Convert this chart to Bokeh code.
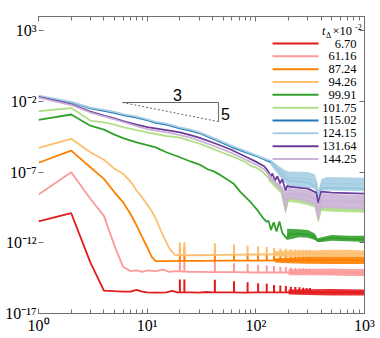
import numpy as np
from bokeh.plotting import figure
from bokeh.models import (FixedTicker, LogTicker, LogAxis,
                          Range1d, CustomJSTickFormatter)
from bokeh.core.properties import value
from bokeh.embed import file_html
from bokeh.resources import INLINE

# ---------------- data (log10 of the plotted quantity) ----------------
LABELS = ["6.70", "61.16", "87.24", "94.26", "99.91",
          "101.75", "115.02", "124.15", "131.64", "144.25"]
COLORS = ["#e31a1c", "#fb9a99", "#ff7f00", "#fdbf6f", "#33a02c",
          "#b2df8a", "#1f78b4", "#a6cee3", "#6a3d9a", "#cab2d6"]

Y_TICKS = [1e3, 1e-2, 1e-7, 1e-12, 1e-17]

SPIKE_K = [20, 22, 42, 63, 84, 105, 126, 147, 168, 189, 210, 231, 252, 273, 294, 315]

RED_K = [1, 2, 3, 4, 5, 6, 7, 8, 9, 10, 12, 15, 17, 19, 25, 30, 35, 40, 50, 60, 80, 100, 150, 200, 300, 500, 1000]
RED_V = [-10.48, -9.91, -13.38, -15.38, -15.42, -15.45, -15.45, -15.33, -15.45, -15.5, -15.52, -15.5, -15.4,
         -15.5, -15.5, -15.52, -15.48, -15.5, -15.5, -15.5, -15.52, -15.5, -15.5, -15.5, -15.5, -15.5, -15.5]
RED_SPK = [-14.6, -14.6, -14.62, -14.72, -14.79, -14.86, -14.9, -14.98, -15.02, -15.05, -15.1, -15.12,
           -15.15, -15.18, -15.2, -15.2]
RED_BK = [200, 300, 500, 700, 1000]
RED_LO = [-15.65, -15.7, -15.72, -15.72, -15.72]
RED_HI = [-15.3, -15.28, -15.26, -15.28, -15.3]

PINK_K = [1, 2, 3, 4, 5, 6, 7, 8, 9, 10, 12, 14, 16, 18, 25, 30, 40, 50, 70, 100, 150, 200, 300, 500, 1000]
PINK_V = [-8.59, -7.01, -8.89, -10.1, -12.2, -13.7, -14.0, -13.95, -14.05, -13.95, -14.0, -13.9, -14.05,
          -14.0, -14.05, -14.05, -14.08, -14.08, -14.08, -14.1, -14.1, -14.1, -14.1, -14.1, -14.12]
PINK_SPK = [-13.14, -13.14, -13.14, -13.45, -13.49, -13.55, -13.6, -13.65, -13.7, -13.72, -13.75, -13.78,
            -13.8, -13.8, -13.82, -13.82]
PINK_BK = [200, 300, 500, 700, 1000]
PINK_LO = [-14.3, -14.3, -14.32, -14.35, -14.35]
PINK_HI = [-13.88, -13.85, -13.82, -13.85, -13.85]

ORANGE_K = [1, 2, 3, 4, 5, 6, 7, 8, 9, 10, 11, 12, 13, 15, 20, 30, 50, 100, 200, 300, 500, 1000]
ORANGE_V = [-6.34, -5.48, -6.66, -7.48, -8.43, -9.13, -9.95, -10.78, -11.6, -12.3, -13.0, -13.3, -13.3,
            -13.3, -13.28, -13.28, -13.26, -13.26, -13.25, -13.25, -13.22, -13.24]
ORANGE_SPK = [-12.3, -12.3, -12.55, -12.67, -12.75, -12.8, -12.85, -12.9, -12.92, -12.95, -12.98, -12.98,
              -13.0, -13.0, -13.0, -13.0]
ORANGE_BK = [150, 200, 300, 500, 700, 1000]
ORANGE_LO = [-13.4, -13.45, -13.49, -13.5, -13.5, -13.5]
ORANGE_HI = [-13.1, -13.05, -13.0, -12.95, -12.95, -12.98]

LORANGE_K = [1, 2, 3, 4, 5, 6, 7, 8, 9, 10, 11, 12, 14, 16, 18, 20, 30, 50, 100, 200, 300, 500, 1000]
LORANGE_V = [-5.29, -4.65, -5.6, -6.13, -6.77, -7.12, -7.65, -8.3, -8.8, -9.3, -9.75, -10.3, -11.5, -12.4,
             -12.85, -12.88, -12.88, -12.86, -12.83, -12.8, -12.8, -12.78, -12.78]
LORANGE_SPK = [-11.96, -11.96, -12.03, -12.12, -12.2, -12.25, -12.3, -12.35, -12.4, -12.42, -12.45, -12.48,
               -12.5, -12.5, -12.5, -12.5]
LORANGE_BK = [150, 200, 300, 500, 700, 1000]
LORANGE_LO = [-12.95, -13.0, -13.0, -13.0, -13.0, -13.0]
LORANGE_HI = [-12.6, -12.55, -12.55, -12.5, -12.5, -12.55]

GREEN_K = [1, 2, 3, 4, 5, 6, 8, 10, 12, 15, 20, 25, 30, 36, 41, 47, 55, 63, 72, 89, 106, 118, 125, 131,
           138, 146, 155, 165, 175, 194, 200, 250, 300, 350, 370, 400, 500, 700, 1000]
GREEN_V = [-3.31, -2.93, -3.72, -4.0, -4.35, -4.6, -4.9, -5.1, -5.25, -5.6, -5.95, -6.25, -6.45, -6.8,
           -6.95, -7.2, -7.55, -7.85, -8.4, -9.1, -9.8, -10.3, -10.5, -10.45, -11.1, -10.55, -11.2, -10.5,
           -11.3, -11.72, -11.4, -11.35, -11.4, -11.6, -11.84, -11.8, -11.65, -11.7, -11.75]
GREEN_BK = [194, 250, 300, 350, 370, 400, 500, 700, 1000]
GREEN_LO = [-11.8, -11.6, -11.65, -11.8, -11.95, -11.95, -11.85, -11.9, -11.95]
GREEN_HI = [-11.0, -11.05, -11.1, -11.35, -11.7, -11.6, -11.45, -11.5, -11.5]

LGREEN_K = [1, 2, 3, 4, 5, 6, 8, 10, 15, 20, 25, 30, 40, 50, 60, 80, 89, 100, 111, 120, 130, 150, 170,
            188, 200, 250, 300, 350, 375, 400, 500, 1000]
LGREEN_V = [-2.7, -2.47, -3.36, -3.48, -3.64, -3.82, -4.03, -4.2, -4.45, -4.56, -4.8, -4.98, -5.34, -5.65,
            -5.87, -6.29, -6.54, -6.68, -6.89, -7.1, -7.4, -7.85, -8.25, -9.65, -8.85, -9.0, -9.15, -9.3,
            -10.4, -9.55, -9.6, -9.7]
LGREEN_BK = [130, 150, 170, 188, 200, 250, 300, 350, 375, 400, 500, 1000]
LGREEN_LO = [-7.6, -8.1, -8.5, -10.0, -9.1, -9.2, -9.35, -9.5, -10.6, -9.75, -9.8, -9.88]
LGREEN_HI = [-7.2, -7.6, -8.0, -9.3, -8.6, -8.8, -8.95, -9.1, -10.2, -9.35, -9.4, -9.5]

BLUE_K = [1, 2, 3, 4, 5, 6, 8, 10, 12, 15, 20, 25, 30, 40, 50, 60, 80, 100, 120, 137, 157, 165, 180,
          200, 300, 360, 375, 400, 1000]
BLUE_V = [-1.66, -2.07, -2.5, -2.67, -2.81, -2.97, -3.15, -3.33, -3.52, -3.64, -3.91, -4.07, -4.24, -4.63,
          -4.95, -5.23, -5.59, -5.85, -6.1, -6.3, -6.77, -7.0, -7.35, -7.6, -7.74, -8.03, -9.01, -8.1, -8.17]

LBLUE_K = [1, 2, 3, 4, 5, 6, 8, 10, 12, 15, 20, 25, 30, 40, 50, 60, 80, 100, 120, 137, 150, 165, 180,
           200, 300, 360, 375, 400, 1000]
LBLUE_V = [-1.6, -2.03, -2.45, -2.6, -2.75, -2.9, -3.08, -3.27, -3.45, -3.58, -3.84, -4.0, -4.18, -4.56,
           -4.88, -5.15, -5.52, -5.8, -6.05, -6.2, -6.45, -6.8, -7.1, -7.4, -7.5, -7.65, -8.6, -7.8, -7.85]
LBLUE_BK = [137, 150, 165, 180, 200, 300, 350, 370, 380, 400, 450, 1000]
LBLUE_LO = [-6.5, -6.9, -7.3, -7.6, -8.0, -8.1, -8.2, -8.8, -9.0, -8.3, -8.3, -8.35]
LBLUE_HI = [-6.15, -6.4, -6.6, -6.8, -6.96, -7.0, -7.15, -7.9, -8.5, -7.5, -7.35, -7.4]

PURPLE_K = [1, 2, 3, 4, 5, 6, 8, 10, 15, 20, 25, 30, 40, 50, 60, 80, 100, 120, 130, 137, 142, 150, 158,
            167, 175, 188, 195, 200, 300, 360, 375, 400, 500, 1000]
PURPLE_V = [-1.68, -2.22, -2.72, -3.0, -3.21, -3.39, -3.64, -3.82, -4.03, -4.2, -4.38, -4.56, -4.91, -5.19,
            -5.44, -5.9, -6.26, -6.61, -6.95, -7.35, -7.1, -7.6, -7.3, -7.8, -7.5, -8.31, -7.95, -8.03,
            -8.17, -8.45, -9.22, -8.38, -8.45, -8.52]

LPURPLE_K = [1, 2, 3, 4, 5, 6, 8, 10, 15, 20, 25, 30, 40, 50, 60, 80, 100, 120, 130, 150, 170, 188, 200,
             250, 300, 350, 375, 400, 500, 1000]
LPURPLE_V = [-1.73, -2.26, -2.79, -3.07, -3.28, -3.46, -3.75, -3.96, -4.2, -4.38, -4.56, -4.77, -5.12,
             -5.41, -5.65, -6.11, -6.47, -6.82, -7.15, -7.7, -8.0, -9.1, -8.5, -8.6, -8.7, -8.85, -9.9,
             -9.0, -9.05, -9.1]
LPURPLE_BK = [130, 150, 170, 188, 200, 250, 300, 350, 375, 400, 500, 1000]
LPURPLE_LO = [-7.4, -7.9, -8.3, -9.95, -8.9, -9.0, -9.2, -9.37, -10.55, -9.55, -9.55, -9.65]
LPURPLE_HI = [-7.05, -7.7, -7.9, -8.41, -8.13, -8.2, -8.27, -8.5, -9.32, -8.48, -8.55, -8.62]

# slope guide (-5/3) and its labels
TRI_X = [5.93, 45.3]
TRI_Y = [10 ** -2.08, 10 ** -3.43]
TRI_LABEL_X = [19.0, 52.6]
TRI_LABEL_Y = [10 ** -1.55, 10 ** -2.86]
TRI_LABELS = ["3", "5"]

SERIES = [
    (RED_K, RED_V, RED_BK, RED_LO, RED_HI, RED_SPK),
    (PINK_K, PINK_V, PINK_BK, PINK_LO, PINK_HI, PINK_SPK),
    (ORANGE_K, ORANGE_V, ORANGE_BK, ORANGE_LO, ORANGE_HI, ORANGE_SPK),
    (LORANGE_K, LORANGE_V, LORANGE_BK, LORANGE_LO, LORANGE_HI, LORANGE_SPK),
    (GREEN_K, GREEN_V, GREEN_BK, GREEN_LO, GREEN_HI, None),
    (LGREEN_K, LGREEN_V, LGREEN_BK, LGREEN_LO, LGREEN_HI, None),
    (BLUE_K, BLUE_V, None, None, None, None),
    (LBLUE_K, LBLUE_V, LBLUE_BK, LBLUE_LO, LBLUE_HI, None),
    (PURPLE_K, PURPLE_V, None, None, None, None),
    (LPURPLE_K, LPURPLE_V, LPURPLE_BK, LPURPLE_LO, LPURPLE_HI, None),
]

# ---------------- layout / style ----------------
W, H = 380, 338
B_LEFT, B_RIGHT, B_TOP, B_BOTTOM = 38, 16, 16, 25
X_DEC = (0.0, 3.0)      # log10 x range
Y_DEC = (-17.0, 4.0)    # log10 y range
PX_X = (W - B_LEFT - B_RIGHT) / (X_DEC[1] - X_DEC[0])
PX_Y = (H - B_TOP - B_BOTTOM) / (Y_DEC[1] - Y_DEC[0])


def kx(px):   # canvas pixel -> data x (for annotation placement only)
    return 10 ** (X_DEC[0] + (px - B_LEFT) / PX_X)


def vy(py):   # canvas pixel -> data y (for annotation placement only)
    return 10 ** (Y_DEC[1] - (py - B_TOP) / PX_Y)


SUP_JS = """
const s = {"0":"\u2070","1":"\u00b9","2":"\u00b2","3":"\u00b3","4":"\u2074","5":"\u2075",
           "6":"\u2076","7":"\u2077","8":"\u2078","9":"\u2079","-":"\u207b"};
const e = Math.round(Math.log10(tick));
return "10" + String(e).split("").map(c => s[c]).join("");
"""
EMPTY_JS = 'return "";'
AX = "#707070"
SERIF = "Liberation Serif"

p = figure(width=W, height=H, x_axis_type="log", y_axis_type="log",
           x_range=Range1d(10 ** X_DEC[0], 10 ** X_DEC[1]),
           y_range=Range1d(10 ** Y_DEC[0], 10 ** Y_DEC[1]),
           output_backend="svg", toolbar_location=None,
           min_border_left=B_LEFT, min_border_right=B_RIGHT,
           min_border_top=B_TOP, min_border_bottom=B_BOTTOM)
p.outline_line_color = None
p.grid.visible = False


def style_axis(ax, labels=True, size="16px", standoff=2):
    ax.axis_line_color = AX
    ax.major_tick_line_color = AX
    ax.minor_tick_line_color = AX
    ax.major_tick_in = 5
    ax.major_tick_out = 0
    ax.minor_tick_in = 4
    ax.minor_tick_out = 0
    if labels:
        ax.formatter = CustomJSTickFormatter(code=SUP_JS)
        ax.major_label_text_font = SERIF
        ax.major_label_text_font_size = size
        ax.major_label_text_color = "black"
        ax.major_label_standoff = standoff
    else:
        ax.formatter = CustomJSTickFormatter(code=EMPTY_JS)
        ax.major_label_text_font_size = "0px"
        ax.major_label_standoff = 0


xa = p.xaxis[0]
xa.ticker = LogTicker(num_minor_ticks=10, desired_num_ticks=4)
style_axis(xa, size="16px", standoff=3)

ya = p.yaxis[0]
ya.ticker = FixedTicker(ticks=Y_TICKS, minor_ticks=[])
style_axis(ya, size="16px", standoff=2)
ya.axis_line_color = None

top = LogAxis(ticker=LogTicker(num_minor_ticks=10, desired_num_ticks=4))
style_axis(top, labels=False)
p.add_layout(top, "above")

right = LogAxis(ticker=FixedTicker(ticks=Y_TICKS, minor_ticks=[]))
style_axis(right, labels=False)
p.add_layout(right, "right")

# ---------------- data glyphs ----------------
for (k, v, bk, lo, hi, spk), col in zip(SERIES, COLORS):
    if bk is not None:
        p.varea(x=bk, y1=10 ** np.array(lo), y2=10 ** np.array(hi),
                fill_color=col, fill_alpha=0.9)
    if spk is not None:
        base = np.interp(np.log10(SPIKE_K), np.log10(k), v)
        p.segment(x0=SPIKE_K, y0=10 ** base, x1=SPIKE_K, y1=10 ** np.array(spk),
                  line_color=col, line_width=2)
    p.line(k, 10 ** np.array(v), line_color=col, line_width=1.8)

# slope triangle
p.segment(x0=[TRI_X[0], TRI_X[1]], y0=[TRI_Y[0], TRI_Y[0]],
          x1=[TRI_X[1], TRI_X[1]], y1=[TRI_Y[0], TRI_Y[1]],
          line_color="#666666", line_width=1)
p.line([TRI_X[0], TRI_X[1]], [TRI_Y[0], TRI_Y[1]], line_color="#666666",
       line_width=1, line_dash="2 2")
p.text(x=TRI_LABEL_X, y=TRI_LABEL_Y, text=TRI_LABELS, text_font=value("Liberation Sans"),
       text_font_size="16px", text_align="center", text_baseline="middle", text_color="black")

# ---------------- legend (drawn as glyphs, placed in canvas pixels) ----------------
LEG_ROW0, LEG_PITCH = 43.0, 12.83
LEG_X0, LEG_X1, LEG_XT = 272.0, 318.0, 356.0
rows = [LEG_ROW0 + i * LEG_PITCH for i in range(len(LABELS))]
p.segment(x0=[kx(LEG_X0)] * len(rows), x1=[kx(LEG_X1)] * len(rows),
          y0=[vy(r) for r in rows], y1=[vy(r) for r in rows],
          line_color=COLORS, line_width=2)
p.text(x=[kx(LEG_XT)] * len(rows), y=[vy(r) for r in rows], text=LABELS,
       text_font=value(SERIF), text_font_size="12.5px", text_align="right",
       text_baseline="middle", text_color="black")

# header "t_Δ ×10^-2"
p.text(x=[kx(321.5)], y=[vy(30.5)], text=["t"], text_font=value(SERIF), text_font_style="italic",
       text_font_size="12px", text_align="left", text_baseline="middle", text_color="black")
p.text(x=[kx(325.5)], y=[vy(34.5)], text=["\u0394"], text_font=value(SERIF),
       text_font_size="8px", text_align="left", text_baseline="middle", text_color="black")
p.text(x=[kx(332)], y=[vy(30.5)], text=["\u00d710"], text_font=value(SERIF),
       text_font_size="12.5px", text_align="left", text_baseline="middle", text_color="black")
p.text(x=[kx(354.5)], y=[vy(26.5)], text=["-2"], text_font=value(SERIF),
       text_font_size="8px", text_align="left", text_baseline="middle", text_color="black")

open("out.html", "w").write(file_html(p, INLINE))
